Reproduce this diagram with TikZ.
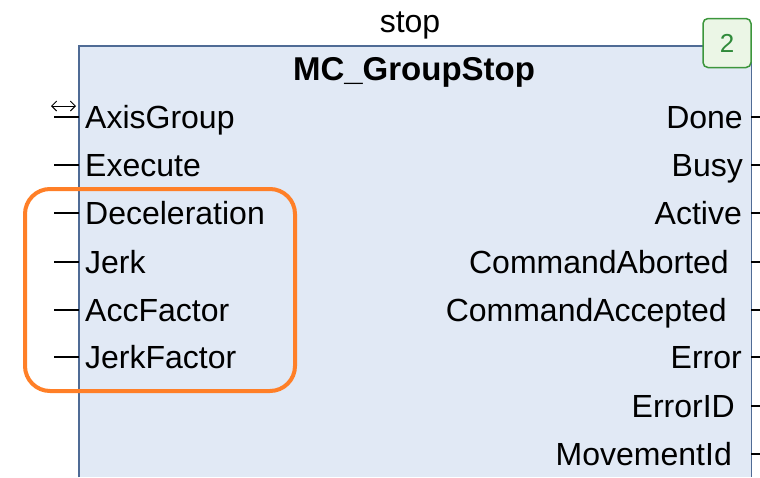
\documentclass[tikz,border=0pt]{standalone}
\usepackage{fontspec}
\setmainfont{Liberation Sans}
\usetikzlibrary{arrows.meta, positioning}
\definecolor{fbfill}{HTML}{E1E9F5}
\definecolor{fbedge}{HTML}{4F6B95}
\definecolor{markorange}{HTML}{FF7F27}
\definecolor{tagfill}{HTML}{EBF6E6}
\definecolor{tagedge}{HTML}{3C963C}
\definecolor{tagtext}{HTML}{2F8A3A}
\tikzset{
  pinin/.style={font=\fontsize{32}{38}\selectfont, anchor=base west, inner sep=0pt},
  pinout/.style={font=\fontsize{32}{38}\selectfont, anchor=base east, inner sep=0pt},
  pinline/.style={black, line width=1.4pt},
}

\begin{document}
\begin{tikzpicture}[x=1pt,y=-1pt]
\useasboundingbox (0,0) rectangle (760,477);
% function block
\node [fill=fbfill, inner sep=0pt, minimum width=672, minimum height=431, anchor=north west] (fb) at (79,46) {};
\draw [fbedge, line width=1.5pt] (fb.south west) -- (fb.north west) -- (fb.north east) -- (fb.south east);
\node [font=\fontsize{32}{38}\selectfont, anchor=base] (inst) at (410,32)  {stop};
\node [font=\fontsize{33}{38}\selectfont\bfseries, anchor=base] (fbname) at (414,80)  {MC\_GroupStop};
\node [draw=tagedge, fill=tagfill, line width=1.5pt, rounded corners=5pt, minimum width=48, minimum height=49, text=tagtext, font=\fontsize{26}{30}\selectfont] (order) at (727,43)  {2};
% inputs
\node [pinin] (axisgroup) at (85,128.5)  {AxisGroup};
\node [pinin] (execute) at (85,176.5)  {Execute};
\node [pinin] (decel) at (85,224.5)  {Deceleration};
\node [pinin] (jerk) at (85,273.5)  {Jerk};
\node [pinin] (accfactor) at (85,321.5)  {AccFactor};
\node [pinin] (jerkfactor) at (85,368.5)  {JerkFactor};
\coordinate (axisgroup-pin) at (54,117);
\coordinate (execute-pin) at (54,165);
\coordinate (decel-pin) at (54,213);
\coordinate (jerk-pin) at (54,262);
\coordinate (accfactor-pin) at (54,310);
\coordinate (jerkfactor-pin) at (54,357);
\draw [pinline] (axisgroup-pin) -- (axisgroup-pin -| fb.west);
\draw [pinline] (execute-pin) -- (execute-pin -| fb.west);
\draw [pinline] (decel-pin) -- (decel-pin -| fb.west);
\draw [pinline] (jerk-pin) -- (jerk-pin -| fb.west);
\draw [pinline] (accfactor-pin) -- (accfactor-pin -| fb.west);
\draw [pinline] (jerkfactor-pin) -- (jerkfactor-pin -| fb.west);
\draw [black, line width=0.9pt, {Straight Barb[length=5pt,width=10pt]}-{Straight Barb[length=5pt,width=10pt]}] (51,106) -- (76,106);
% outputs
\node [pinout] (done) at (743,128.5)  {Done};
\node [pinout] (busy) at (743,176.5)  {Busy};
\node [pinout] (active) at (742,224.5)  {Active};
\node [pinout] (cmdaborted) at (729,273.5)  {CommandAborted};
\node [pinout] (cmdaccepted) at (727,321.5)  {CommandAccepted};
\node [pinout] (error) at (742,368.5)  {Error};
\node [pinout] (errorid) at (735,417.5)  {ErrorID};
\node [pinout] (moveid) at (732,465.5)  {MovementId};
\coordinate (done-pin) at (760,117);
\coordinate (busy-pin) at (760,165);
\coordinate (active-pin) at (760,213);
\coordinate (cmdaborted-pin) at (760,262);
\coordinate (cmdaccepted-pin) at (760,310);
\coordinate (error-pin) at (760,357);
\coordinate (errorid-pin) at (760,406);
\coordinate (moveid-pin) at (760,454);
\draw [pinline] (done-pin -| fb.east) -- (done-pin);
\draw [pinline] (busy-pin -| fb.east) -- (busy-pin);
\draw [pinline] (active-pin -| fb.east) -- (active-pin);
\draw [pinline] (cmdaborted-pin -| fb.east) -- (cmdaborted-pin);
\draw [pinline] (cmdaccepted-pin -| fb.east) -- (cmdaccepted-pin);
\draw [pinline] (error-pin -| fb.east) -- (error-pin);
\draw [pinline] (errorid-pin -| fb.east) -- (errorid-pin);
\draw [pinline] (moveid-pin -| fb.east) -- (moveid-pin);
% highlight
\draw [markorange, line width=4pt, rounded corners=25pt] (25,189) rectangle (295,391);
\end{tikzpicture}
\end{document}
